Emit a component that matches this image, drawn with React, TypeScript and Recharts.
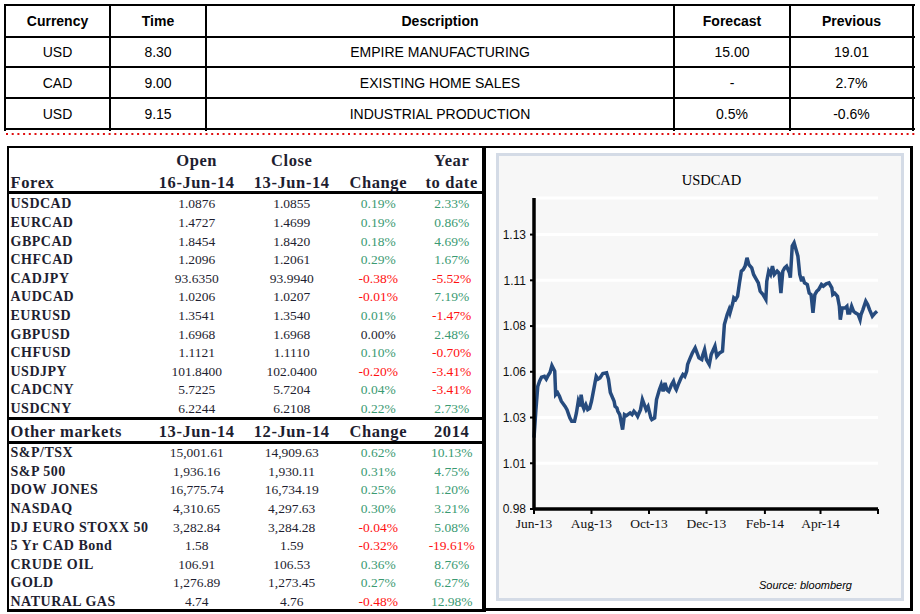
import React from 'react';
import { LineChart, Line, XAxis, YAxis, CartesianGrid } from 'recharts';

// ---------- Economic calendar ----------
const eventHeaders = ['Currency', 'Time', 'Description', 'Forecast', 'Previous'];
const eventCurrency = ['USD', 'CAD', 'USD'];
const eventTime = ['8.30', '9.00', '9.15'];
const eventDescription = ['EMPIRE MANUFACTURING', 'EXISTING HOME SALES', 'INDUSTRIAL PRODUCTION'];
const eventForecast = ['15.00', '-', '0.5%'];
const eventPrevious = ['19.01', '2.7%', '-0.6%'];

// ---------- Forex table ----------
const forexHeaderTop = ['', 'Open', 'Close', '', 'Year'];
const forexHeaderBottom = ['Forex', '16-Jun-14', '13-Jun-14', 'Change', 'to date'];
const forexNames = ['USDCAD', 'EURCAD', 'GBPCAD', 'CHFCAD', 'CADJPY', 'AUDCAD', 'EURUSD', 'GBPUSD', 'CHFUSD', 'USDJPY', 'CADCNY', 'USDCNY'];
const forexOpen = ['1.0876', '1.4727', '1.8454', '1.2096', '93.6350', '1.0206', '1.3541', '1.6968', '1.1121', '101.8400', '5.7225', '6.2244'];
const forexClose = ['1.0855', '1.4699', '1.8420', '1.2061', '93.9940', '1.0207', '1.3540', '1.6968', '1.1110', '102.0400', '5.7204', '6.2108'];
const forexChange = ['0.19%', '0.19%', '0.18%', '0.29%', '-0.38%', '-0.01%', '0.01%', '0.00%', '0.10%', '-0.20%', '0.04%', '0.22%'];
const forexYtd = ['2.33%', '0.86%', '4.69%', '1.67%', '-5.52%', '7.19%', '-1.47%', '2.48%', '-0.70%', '-3.41%', '-3.41%', '2.73%'];

// ---------- Other markets ----------
const marketHeader = ['Other markets', '13-Jun-14', '12-Jun-14', 'Change', '2014'];
const marketNames = ['S&P/TSX', 'S&P 500', 'DOW JONES', 'NASDAQ', 'DJ EURO STOXX 50', '5 Yr CAD Bond', 'CRUDE OIL', 'GOLD', 'NATURAL GAS'];
const marketLast = ['15,001.61', '1,936.16', '16,775.74', '4,310.65', '3,282.84', '1.58', '106.91', '1,276.89', '4.74'];
const marketPrev = ['14,909.63', '1,930.11', '16,734.19', '4,297.63', '3,284.28', '1.59', '106.53', '1,273.45', '4.76'];
const marketChange = ['0.62%', '0.31%', '0.25%', '0.30%', '-0.04%', '-0.32%', '0.36%', '0.27%', '-0.48%'];
const marketYtd = ['10.13%', '4.75%', '1.20%', '3.21%', '5.08%', '-19.61%', '8.76%', '6.27%', '12.98%'];

// ---------- USDCAD chart (days since 13-Jun-2013) ----------
const usdcadDays = [0, 2, 4, 6, 8, 11, 13, 15, 17, 19, 22, 23, 25, 27, 29, 33, 35, 38, 40, 43, 45, 47, 49, 50, 52, 53, 55, 57, 59, 61, 64, 66, 68, 70, 73, 77, 79, 81, 85, 86, 88, 89, 91, 94, 96, 98, 102, 104, 106, 109, 110, 113, 115, 117, 119, 121, 124, 125, 128, 130, 133, 135, 137, 139, 141, 143, 146, 148, 150, 151, 153, 156, 158, 160, 162, 163, 165, 168, 171, 173, 175, 178, 179, 181, 183, 186, 188, 192, 194, 197, 200, 202, 205, 207, 208, 211, 212, 214, 216, 218, 220, 222, 224, 226, 228, 231, 233, 235, 238, 240, 243, 246, 247, 249, 251, 253, 255, 258, 260, 262, 264, 266, 268, 271, 272, 274, 276, 278, 280, 282, 284, 285, 287, 290, 292, 294, 296, 298, 300, 302, 305, 307, 310, 313, 316, 317, 319, 322, 324, 325, 327, 330, 332, 333, 335, 337, 339, 341, 344, 346, 347, 349, 352, 354, 356, 359, 362, 364];
const usdcadValues = [1.019, 1.034, 1.047, 1.05, 1.052, 1.0525, 1.051, 1.053, 1.0546, 1.0584, 1.0553, 1.0425, 1.0436, 1.0416, 1.0389, 1.0361, 1.0343, 1.0298, 1.0279, 1.0279, 1.0325, 1.0389, 1.0361, 1.0425, 1.036, 1.0347, 1.037, 1.0343, 1.035, 1.0389, 1.047, 1.0525, 1.051, 1.0516, 1.054, 1.0544, 1.051, 1.0437, 1.0389, 1.0361, 1.0352, 1.0334, 1.0316, 1.0234, 1.0316, 1.031, 1.0325, 1.0316, 1.0334, 1.0316, 1.0307, 1.0343, 1.0398, 1.037, 1.0343, 1.036, 1.0298, 1.0289, 1.0298, 1.0398, 1.0452, 1.048, 1.0443, 1.0489, 1.0452, 1.0443, 1.048, 1.0498, 1.0461, 1.0452, 1.048, 1.0516, 1.0535, 1.0525, 1.0553, 1.059, 1.0617, 1.0653, 1.0681, 1.0653, 1.0626, 1.0617, 1.064, 1.0671, 1.0617, 1.059, 1.0644, 1.069, 1.0635, 1.0653, 1.0662, 1.0808, 1.0863, 1.089, 1.0872, 1.0927, 1.0954, 1.0945, 1.0963, 1.1036, 1.11, 1.1109, 1.1127, 1.1173, 1.1136, 1.1118, 1.1082, 1.1064, 1.1036, 1.099, 1.0972, 1.0945, 1.1045, 1.11, 1.1082, 1.1127, 1.1082, 1.11, 1.109, 1.098, 1.11, 1.1118, 1.1127, 1.1091, 1.1064, 1.1237, 1.1255, 1.1219, 1.1182, 1.1082, 1.1045, 1.107, 1.1036, 1.1027, 1.098, 1.0972, 1.0872, 1.0972, 1.099, 1.0999, 1.1027, 1.1018, 1.1031, 1.1036, 1.1009, 1.0972, 1.098, 1.0963, 1.0908, 1.0835, 1.0899, 1.0899, 1.0908, 1.0872, 1.0872, 1.0908, 1.0881, 1.0872, 1.0863, 1.0835, 1.0863, 1.089, 1.0936, 1.0918, 1.089, 1.0854, 1.0872, 1.0881];
const xTicks = [0, 61, 122, 183, 245, 304, 365];
const xTickLabels = ['Jun-13', 'Aug-13', 'Oct-13', 'Dec-13', 'Feb-14', 'Apr-14', ''];
const yTicks = [0.98, 1.005, 1.03, 1.055, 1.08, 1.105, 1.13];
const yTickLabels = ['0.98', '1.01', '1.03', '1.06', '1.08', '1.11', '1.13'];

const chartData = usdcadDays.map((d, i) => ({ day: d, value: usdcadValues[i] }));

const SERIF = "'Liberation Serif', 'DejaVu Serif', serif";
const SANS = "'Liberation Sans', Arial, sans-serif";
const GREEN = '#3a9a72';
const RED = '#ff1010';
const INK = '#1e1e30';

const pctColor = (s: string) => (s.startsWith('-') ? RED : parseFloat(s) === 0 ? INK : GREEN);

const Box = (p: { l: number; t: number; w: number; h: number; bg: string }) => (
  <div style={{ position: 'absolute', left: p.l, top: p.t, width: p.w, height: p.h, background: p.bg }} />
);

const Txt = (p: { cx?: number; left?: number; cy: number; text: string; font: string; size: number; weight?: string | number; color?: string; ls?: number; italic?: boolean }) => {
  const h = 20;
  const style: React.CSSProperties = {
    position: 'absolute',
    top: p.cy - h / 2,
    height: h,
    lineHeight: h + 'px',
    fontFamily: p.font,
    fontSize: p.size,
    fontWeight: p.weight ?? 'normal',
    color: p.color ?? '#000',
    letterSpacing: p.ls ?? 0,
    whiteSpace: 'nowrap',
    fontStyle: p.italic ? 'italic' : 'normal',
  };
  if (p.left !== undefined) {
    style.left = p.left;
  } else {
    style.left = (p.cx as number) - 150;
    style.width = 300;
    style.textAlign = 'center';
  }
  return <div style={style}>{p.text}</div>;
};

export default function App() {
  const colX = [5, 110, 206, 674, 790, 913];
  const rowY = [5, 37, 67, 98, 129];
  const eventCols = [eventCurrency, eventTime, eventDescription, eventForecast, eventPrevious];

  const cols = [196.7, 291.7, 378.3, 451.7];
  const forexRowY = (i: number) => 204.3 + i * 18.6;
  const marketRowY = (i: number) => 453.3 + i * 18.55;

  return (
    <div style={{ position: 'absolute', left: 0, top: 0, width: 920, height: 614, background: '#fff', overflow: 'hidden' }}>
      {/* ---- top table ---- */}
      {rowY.map((y, i) => (
        <Box key={'h' + i} l={5} t={y - 1} w={910} h={2} bg="#000" />
      ))}
      {colX.map((x, i) => (
        <Box key={'v' + i} l={x - 1} t={4} w={2} h={127} bg="#000" />
      ))}
      {eventHeaders.map((h, i) => (
        <Txt key={'eh' + i} cx={(colX[i] + colX[i + 1]) / 2} cy={21} text={h} font={SANS} size={14} weight="bold" />
      ))}
      {eventCols.map((col, c) =>
        col.map((v, r) => (
          <Txt key={'ev' + c + '-' + r} cx={(colX[c] + colX[c + 1]) / 2} cy={(rowY[r + 1] + rowY[r + 2]) / 2} text={v} font={SANS} size={14} />
        ))
      )}
      <svg style={{ position: 'absolute', left: 0, top: 0 }} width={920} height={140}>
        <line x1={6} y1={134} x2={916} y2={134} stroke="#e01010" strokeWidth={2} strokeDasharray="2 3.7" />
      </svg>

      {/* ---- left table frame ---- */}
      <Box l={7} t={146} w={2} h={466} bg="#000" />
      <Box l={7} t={146} w={478} h={2} bg="#000" />
      <Box l={482} t={146} w={4} h={466} bg="#000" />
      <Box l={7} t={609} w={478} h={3} bg="#000" />
      <Box l={7} t={191} w={478} h={3} bg="#000" />
      <Box l={7} t={417} w={478} h={3} bg="#000" />
      <Box l={7} t={441} w={478} h={3} bg="#000" />

      {forexHeaderTop.map((h, i) =>
        i === 0 || !h ? null : <Txt key={'fht' + i} cx={cols[i - 1]} cy={160.7} text={h} font={SERIF} size={16.5} weight="bold" color={INK} ls={0.6} />
      )}
      {forexHeaderBottom.map((h, i) =>
        i === 0 ? (
          <Txt key={'fhb' + i} left={10.5} cy={183} text={h} font={SERIF} size={16.5} weight="bold" color={INK} ls={0.6} />
        ) : (
          <Txt key={'fhb' + i} cx={cols[i - 1]} cy={183} text={h} font={SERIF} size={16.5} weight="bold" color={INK} ls={0.6} />
        )
      )}
      {forexNames.map((n, r) => (
        <React.Fragment key={'fx' + r}>
          <Txt left={10.5} cy={forexRowY(r)} text={n} font={SERIF} size={14} weight="bold" color={INK} ls={0.5} />
          <Txt cx={cols[0]} cy={forexRowY(r)} text={forexOpen[r]} font={SERIF} size={13.5} color={INK} />
          <Txt cx={cols[1]} cy={forexRowY(r)} text={forexClose[r]} font={SERIF} size={13.5} color={INK} />
          <Txt cx={cols[2]} cy={forexRowY(r)} text={forexChange[r]} font={SERIF} size={13.5} color={pctColor(forexChange[r])} />
          <Txt cx={cols[3]} cy={forexRowY(r)} text={forexYtd[r]} font={SERIF} size={13.5} color={pctColor(forexYtd[r])} />
        </React.Fragment>
      ))}

      {marketHeader.map((h, i) =>
        i === 0 ? (
          <Txt key={'mh' + i} left={10.5} cy={431.5} text={h} font={SERIF} size={16.5} weight="bold" color={INK} ls={0.6} />
        ) : (
          <Txt key={'mh' + i} cx={cols[i - 1]} cy={431.5} text={h} font={SERIF} size={16.5} weight="bold" color={INK} ls={0.6} />
        )
      )}
      {marketNames.map((n, r) => (
        <React.Fragment key={'mk' + r}>
          <Txt left={10.5} cy={marketRowY(r)} text={n} font={SERIF} size={14} weight="bold" color={INK} ls={0.5} />
          <Txt cx={cols[0]} cy={marketRowY(r)} text={marketLast[r]} font={SERIF} size={13.5} color={INK} />
          <Txt cx={cols[1]} cy={marketRowY(r)} text={marketPrev[r]} font={SERIF} size={13.5} color={INK} />
          <Txt cx={cols[2]} cy={marketRowY(r)} text={marketChange[r]} font={SERIF} size={13.5} color={pctColor(marketChange[r])} />
          <Txt cx={cols[3]} cy={marketRowY(r)} text={marketYtd[r]} font={SERIF} size={13.5} color={pctColor(marketYtd[r])} />
        </React.Fragment>
      ))}

      {/* ---- chart frame ---- */}
      <Box l={484} t={146} w={429} h={2} bg="#000" />
      <Box l={910} t={146} w={3} h={465} bg="#000" />
      <Box l={484} t={608} w={429} h={3} bg="#000" />
      <div
        style={{
          position: 'absolute',
          left: 496,
          top: 153,
          width: 408,
          height: 448,
          background: '#f7f7f7',
          border: '3px solid #d4dbe6',
          boxSizing: 'border-box',
        }}
      />
      <Txt cx={711.5} cy={180} text="USDCAD" font={SERIF} size={14.5} color="#000" />
      <Txt left={759} cy={585} text="Source: bloomberg" font={SANS} size={11} italic color="#000" />

      <div style={{ position: 'absolute', left: 486, top: 147 }}>
        <LineChart width={426} height={460} data={chartData} margin={{ top: 51, right: 34, left: 8, bottom: 68 }}>
          <CartesianGrid horizontal vertical={false} stroke="#ffffff" strokeWidth={3} />
          <XAxis
            dataKey="day"
            type="number"
            domain={[0, 365]}
            ticks={xTicks}
            interval={0}
            tickFormatter={(v: number) => xTickLabels[xTicks.indexOf(v)] ?? ''}
            axisLine={{ stroke: '#000', strokeWidth: 3.5 }}
            tickLine={{ stroke: '#000', strokeWidth: 2 }}
            tickSize={5}
            tickMargin={4}
            tick={{ fill: '#111', fontSize: 13.5, fontFamily: SERIF }}
            height={30}
          />
          <YAxis
            type="number"
            domain={[0.98, 1.15]}
            ticks={yTicks}
            interval={0}
            tickFormatter={(v: number) => yTickLabels[yTicks.indexOf(v)] ?? ''}
            axisLine={{ stroke: '#000', strokeWidth: 3.5 }}
            tickLine={{ stroke: '#000', strokeWidth: 2 }}
            tickSize={4}
            tickMargin={4}
            tick={{ fill: '#111', fontSize: 12, fontFamily: "'Liberation Sans Narrow', 'Arial Narrow', " + SANS }}
            width={40}
          />
          <Line
            dataKey="value"
            type="linear"
            stroke="#264b7e"
            strokeWidth={3.5}
            dot={false}
            isAnimationActive={false}
          />
        </LineChart>
      </div>
    </div>
  );
}
